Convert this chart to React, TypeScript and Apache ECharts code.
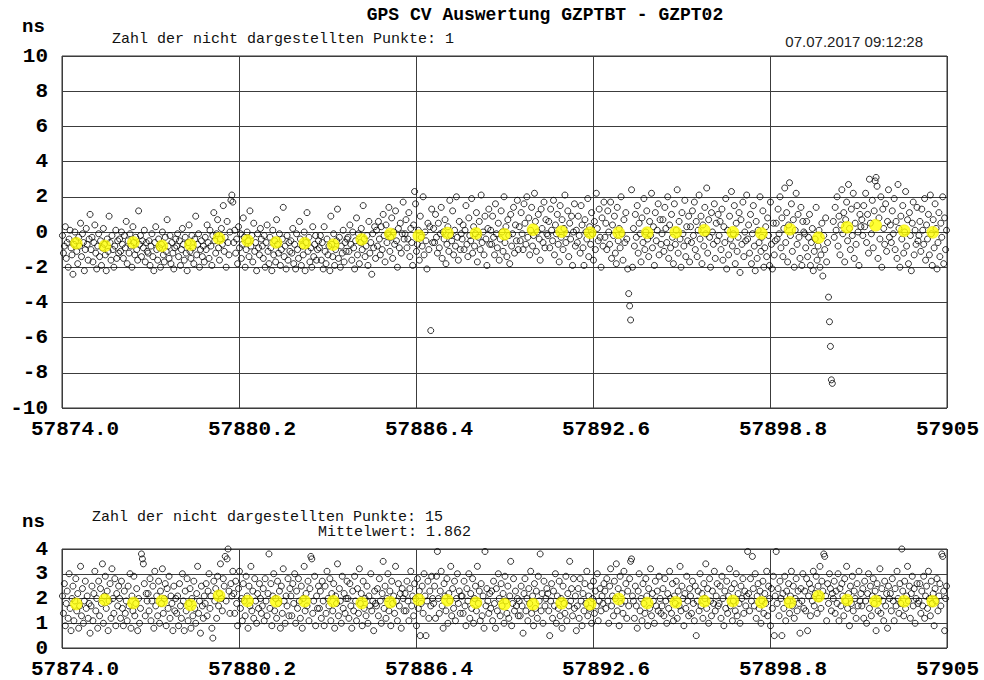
import React, { useEffect, useRef } from "react";
import * as echarts from "echarts";

// MJD of the left edge of both plots; x positions are days since this date
const MJD_START = 57874;
const X_TICK_LABELS = ["57874.0", "57880.2", "57886.4", "57892.6", "57898.8", "57905"];
const TOP_Y_TICKS = [-10, -8, -6, -4, -2, 0, 2, 4, 6, 8, 10];
const BOTTOM_Y_TICKS = [0, 1, 2, 3, 4];

const TITLE = "GPS CV Auswertung GZPTBT - GZPT02";
const TIMESTAMP = "07.07.2017 09:12:28";
const TOP_HIDDEN = "Zahl der nicht dargestellten Punkte: 1";
const BOTTOM_HIDDEN = "Zahl der nicht dargestellten Punkte: 15";
const BOTTOM_MEAN_TEXT = "Mittelwert: 1.862";

// daily means (ns), one per day
const TOP_MEANS = [
  -0.64, -0.79, -0.59, -0.79, -0.72, -0.36, -0.49, -0.59, -0.64, -0.72, -0.42,
  -0.11, -0.21, -0.06, -0.08, -0.13, 0.13, 0.02, -0.04, -0.04, -0.04, -0.02,
  0.1, -0.02, -0.08, 0.15, -0.32, 0.27, 0.38, 0.07, -0.02,
];
const BOTTOM_MEANS = [
  1.78, 1.95, 1.82, 1.9, 1.74, 2.11, 1.9, 1.89, 1.89, 1.89, 1.82, 1.85, 1.95,
  1.93, 1.83, 1.77, 1.77, 1.81, 1.77, 1.98, 1.82, 1.85, 1.89, 1.9, 1.85, 1.85,
  2.09, 1.94, 1.89, 1.89, 1.89,
];

// single CV differences in units of 0.1 ns, one row per day (regular epochs)
const TOP_SAMPLES = [
  [-2, -12, -8, 3, -15, -6, -20, -4, 1, -9, -13, -24, -7, 0, -5, -11, -18, -3, -8, 5, -14, -1, -6, -22, -10, 2, -7, -16, -4, 10],
  [-10, -3, -17, -6, 4, -12, -21, -8, -1, -14, -5, -19, -9, 2, -7, -13, -22, -4, -11, 9, -6, -16, -2, -10, -20, -8, 1, -15, -5, -12],
  [-4, -11, 0, -7, -15, -2, -9, 6, -18, -5, -12, -1, -8, -20, 3, -6, -13, -3, -10, -16, 12, -7, -2, -14, -5, -9, 1, -17, -6, -11],
  [-12, -5, -19, -8, -1, -14, -22, -6, 3, -10, -16, -4, -9, -20, -7, 0, -13, -17, -3, -11, 7, -8, -15, -2, -18, -6, -12, -21, -9, -4],
  [-8, -1, -14, -5, -19, -10, 2, -7, -16, -3, -12, -22, -6, 4, -11, -15, -2, -9, -18, -4, 9, -13, -7, -1, -20, -10, -5, -14, -8, -17],
  [-3, -10, 4, -6, -15, 1, -8, -19, -2, 11, -5, -12, -1, 7, -9, -16, -4, 2, -7, 15, -11, -3, -20, 6, -6, -13, 0, 18, 21, 17],
  [-6, 1, -12, -4, -18, 3, -9, -1, -15, -7, 8, -3, -20, -10, 0, -5, -14, 12, -8, -2, -17, 5, -11, -6, -22, -1, -9, -13, 2, -4],
  [-8, -15, -2, -20, -6, 4, -11, -18, -3, -9, -22, 1, -13, -5, -17, 7, -7, -12, -1, -19, -10, -4, 14, -14, -8, -21, -2, -16, -6, -11],
  [-5, -12, 2, -18, -7, -21, -1, -10, -15, 6, -4, -19, -8, -13, 0, -22, -6, 11, -11, -3, -17, -9, -20, 3, -14, -7, -2, -16, -10, -5],
  [-9, -2, -16, -6, -21, 3, -11, -18, -4, -13, -8, -22, 9, -7, -14, -1, -19, -10, -5, 13, -15, -3, -20, -8, -12, 1, -17, -6, -11, -4],
  [-3, -11, 4, -7, -16, 0, -9, -21, -5, 8, -13, -1, -18, -6, 2, -10, 15, -4, -14, -8, -2, -19, 6, -12, -6, -24, -1, -9, 3, -15],
  [1, -8, 6, -4, -13, 3, -10, 10, -2, -17, 4, -6, -1, 14, -11, -3, 8, -15, 0, -7, 12, -5, -20, 2, -9, 5, -12, -1, 17, -4],
  [-1, 7, -9, -4, 11, -14, 2, -6, -19, 4, 23, 16, -11, -7, 1, -16, 9, -3, -8, 20, -13, 0, -5, -21, 5, -10, 3, -56, 13, -6],
  [2, -6, 10, -3, -12, 5, -9, -1, 14, -15, 0, -4, 7, -18, -7, 3, -11, 18, -2, -5, 12, -13, 1, -8, 20, -3, -16, 6, -10, -1],
  [-4, 4, -10, 1, 15, -7, -14, 8, -2, -5, 19, -12, 3, -8, -1, 11, -17, -3, 6, -10, 21, -6, 0, -13, 9, -4, -19, 2, 13, -7],
  [1, -7, 9, -3, -13, 16, -1, -9, 5, -16, -4, 12, 0, -11, 20, -6, 3, -14, 7, -2, -18, 10, -8, -1, 14, -12, 4, -5, 18, -10],
  [3, -5, 11, -1, -10, 16, 5, -7, 20, -3, 8, -13, 1, 14, -8, -2, 22, 6, -11, 0, 10, -4, -16, 13, 2, -6, 17, -9, 7, -1],
  [-2, 6, -9, 13, 1, -5, 18, -13, 4, -1, 10, -7, -17, 15, -3, 7, -10, 2, 21, -6, -1, 12, -14, 5, -4, 9, -19, 0, 16, -8],
  [1, -6, 9, -2, -12, 15, 4, -9, -19, 7, 0, -4, 19, -14, 3, -7, 11, -1, -16, 6, -10, 22, 2, -5, 13, -3, -20, 8, -8, 17],
  [-3, 5, -10, 12, 0, -7, 17, -15, 4, -2, 9, -12, -18, 14, -5, 2, -9, 20, -1, -16, 7, -6, 11, -4, -21, -35, -42, -50, 24, -20],
  [2, -8, 10, -3, 15, -12, 5, -1, -17, 8, -6, 19, -10, 0, 12, -4, -14, 6, -2, 22, -9, 3, -19, 11, -5, 1, 16, -13, 7, -7],
  [-1, 7, -11, 14, 2, -6, 20, -15, 4, -9, 10, -3, -18, 16, -7, 1, 24, -12, 6, -4, -20, 11, -1, -8, 18, -14, 3, -5, 9, -17],
  [3, -6, 12, -2, 17, -10, 6, -14, 1, 21, -4, 9, -18, 4, -8, 14, -1, 25, -12, 7, -3, -20, 11, 0, -7, 16, -15, 5, -5, 10],
  [-2, 6, -10, 13, -16, 3, -6, 19, -21, 1, -13, 9, -4, 23, -8, -1, 15, -18, 5, -11, -3, 11, -23, 7, -7, 17, -14, 0, -5, 21],
  [-4, 4, -12, 10, -18, -1, 15, -8, -22, 6, -15, 1, -6, 20, -11, -3, 12, -20, -9, 3, -14, 8, -2, -19, 17, -7, -21, 5, -13, -5],
  [5, -4, 13, -1, 20, -9, 8, -14, 2, 25, -6, 11, -17, 4, 28, -2, 16, -11, 7, -20, 1, 22, -7, 10, -3, -15, 14, -19, 6, 0],
  [-1, -9, 6, -14, -3, 10, -19, -6, 2, -22, -11, -4, 14, -16, -8, 1, -20, -13, 5, -25, -2, -10, 8, -17, -6, -37, -51, -65, -84, -86],
  [6, -3, 14, 1, 20, -8, 9, -13, 4, 24, -1, 11, -17, 7, 17, -5, 27, 2, -10, 13, -2, 22, -15, 5, -7, 15, 0, -19, 10, 3],
  [7, -2, 15, 3, 22, -6, 10, -12, 30, 5, -1, 18, -9, 12, 29, 31, 26, -15, 8, -4, 20, -20, 13, 2, -7, 16, -11, 6, 24, -3],
  [4, -6, 12, -1, 19, -10, 6, -15, 27, 2, -20, 9, -4, 15, -12, 0, 23, -8, 7, -18, 11, -2, -22, 5, 17, -13, 1, -7, 14, -5],
  [-2, 6, -11, 13, 1, -7, 19, -16, 4, -4, 10, -13, 21, -1, -19, 7, -9, 16, 2, -21, -6, 11, -14, 5, -3, 20, -18, 8, -10, 1],
];

const BOTTOM_SAMPLES = [
  [21, 14, 26, 9, 18, 23, 12, 30, 16, 7, 20, 25, 11, 19, 28, 15, 22, 8, 17, 33, 13, 24, 10, 19, 27, 16, 21, 12, 18, 6],
  [17, 25, 11, 22, 31, 15, 20, 8, 27, 13, 24, 18, 34, 10, 21, 29, 16, 23, 7, 19, 26, 12, 32, 20, 14, 28, 9, 22, 17, 25],
  [20, 12, 27, 16, 9, 23, 14, 19, 11, 25, 17, 30, 8, 21, 15, 29, 13, 18, 24, 7, 20, 10, 16, 38, 36, 34, 26, 13, 22, 19],
  [22, 15, 28, 11, 19, 25, 8, 31, 17, 21, 13, 27, 10, 23, 18, 32, 14, 20, 26, 9, 24, 16, 29, 12, 21, 18, 7, 25, 15, 20],
  [14, 21, 9, 26, 17, 12, 30, 19, 7, 23, 15, 28, 11, 18, 24, 8, 20, 13, 27, 16, 10, 22, 33, 14, 19, 6, 25, 17, 12, 21],
  [18, 26, 13, 23, 30, 16, 21, 8, 4, 27, 19, 24, 12, 29, 17, 22, 34, 20, 15, 28, 25, 37, 19, 36, 40, 23, 14, 26, 21, 31],
  [22, 14, 27, 18, 9, 24, 31, 16, 20, 11, 26, 19, 13, 29, 21, 8, 25, 17, 33, 15, 23, 12, 28, 19, 10, 22, 16, 26, 20, 14],
  [17, 24, 11, 28, 19, 13, 22, 38, 16, 26, 9, 21, 30, 15, 20, 12, 27, 18, 23, 8, 25, 14, 32, 19, 10, 21, 17, 28, 13, 24],
  [21, 13, 26, 18, 30, 10, 23, 16, 28, 19, 12, 25, 8, 20, 33, 15, 22, 17, 27, 11, 24, 37, 36, 14, 19, 29, 9, 21, 16, 25],
  [16, 23, 12, 27, 19, 9, 25, 14, 31, 20, 17, 28, 11, 22, 15, 26, 8, 21, 18, 34, 13, 24, 19, 10, 29, 16, 22, 14, 20, 27],
  [20, 12, 26, 17, 8, 23, 15, 29, 19, 11, 24, 14, 32, 18, 22, 9, 27, 16, 20, 13, 25, 10, 21, 17, 30, 15, 19, 7, 23, 18],
  [17, 24, 13, 28, 19, 10, 22, 35, 16, 25, 12, 20, 30, 15, 23, 9, 27, 18, 21, 14, 33, 19, 11, 26, 17, 22, 8, 24, 20, 15],
  [22, 15, 27, 19, 11, 24, 31, 17, 21, 13, 26, 20, 9, 28, 16, 23, 5, 18, 25, 14, 30, 21, 5, 19, 27, 12, 23, 17, 29, 20],
  [18, 25, 12, 29, 39, 20, 14, 23, 31, 17, 8, 26, 21, 15, 28, 10, 22, 19, 33, 13, 24, 16, 27, 11, 20, 30, 18, 23, 14, 21],
  [21, 14, 27, 17, 9, 24, 19, 30, 12, 22, 16, 28, 10, 20, 25, 15, 33, 18, 23, 11, 26, 13, 21, 8, 39, 17, 24, 19, 14, 22],
  [16, 23, 11, 27, 18, 8, 24, 15, 30, 20, 13, 26, 17, 22, 10, 29, 19, 14, 25, 12, 21, 35, 9, 18, 28, 15, 23, 17, 20, 13],
  [19, 13, 25, 17, 6, 22, 28, 15, 20, 11, 24, 18, 31, 14, 21, 9, 26, 16, 23, 12, 29, 19, 38, 15, 22, 10, 27, 17, 20, 24],
  [22, 15, 5, 19, 26, 12, 23, 17, 30, 10, 21, 16, 27, 13, 20, 8, 25, 18, 14, 29, 11, 22, 17, 35, 19, 24, 13, 28, 16, 21],
  [7, 17, 24, 12, 28, 19, 9, 22, 15, 26, 18, 31, 13, 21, 16, 25, 10, 20, 27, 14, 23, 17, 30, 11, 19, 24, 15, 21, 18, 26],
  [23, 16, 28, 19, 10, 25, 32, 17, 21, 13, 27, 20, 34, 15, 24, 9, 29, 18, 22, 14, 31, 19, 26, 12, 23, 17, 28, 35, 36, 21],
  [19, 12, 25, 17, 8, 23, 30, 15, 20, 11, 26, 18, 14, 28, 21, 9, 24, 16, 32, 13, 22, 19, 10, 27, 17, 23, 15, 29, 20, 14],
  [17, 24, 13, 28, 19, 10, 22, 16, 31, 20, 14, 26, 11, 21, 18, 27, 12, 23, 17, 33, 15, 25, 20, 9, 22, 16, 29, 19, 13, 24],
  [21, 14, 27, 18, 11, 25, 5, 19, 23, 15, 30, 17, 22, 12, 26, 20, 34, 16, 24, 10, 28, 19, 13, 23, 18, 31, 15, 21, 26, 17],
  [18, 25, 12, 29, 20, 9, 23, 16, 27, 14, 21, 32, 17, 24, 11, 19, 26, 15, 30, 13, 22, 18, 10, 25, 20, 28, 14, 23, 17, 21],
  [39, 22, 15, 28, 19, 37, 24, 17, 30, 12, 21, 26, 16, 23, 10, 19, 27, 14, 22, 18, 31, 13, 25, 20, 9, 24, 16, 29, 5, 21],
  [39, 18, 24, 13, 27, 20, 5, 22, 16, 29, 11, 23, 19, 26, 14, 21, 31, 17, 25, 12, 20, 28, 15, 23, 18, 6, 24, 19, 30, 16],
  [23, 15, 28, 7, 21, 26, 13, 24, 19, 31, 17, 22, 29, 14, 25, 20, 33, 16, 27, 23, 38, 37, 21, 11, 26, 18, 30, 24, 15, 22],
  [20, 27, 14, 23, 18, 30, 11, 24, 17, 26, 21, 13, 28, 19, 33, 16, 22, 9, 25, 18, 29, 15, 23, 20, 12, 26, 17, 31, 19, 22],
  [17, 24, 12, 27, 19, 10, 22, 30, 16, 25, 13, 21, 28, 18, 23, 7, 26, 15, 20, 32, 14, 24, 19, 11, 27, 17, 22, 8, 25, 20],
  [22, 15, 28, 19, 11, 24, 17, 31, 20, 14, 26, 18, 40, 23, 13, 27, 16, 21, 33, 19, 25, 12, 22, 29, 17, 24, 10, 20, 26, 18],
  [19, 26, 14, 23, 17, 29, 12, 21, 25, 16, 31, 20, 13, 27, 18, 22, 9, 24, 19, 28, 15, 21, 26, 17, 38, 37, 23, 7, 20, 25],
];

const MONO = "'Liberation Mono', 'Courier New', monospace";
const GRID_COLOR = "#3c3c3c";

// spread each day's samples over its epochs; values are stored in 0.1 ns
const toPoints = (rows: number[][]) =>
  rows.flatMap((row, day) =>
    row.map((v, i) => [day + (i + 0.5) / row.length, v / 10])
  );
const meanPoints = (means: number[]) => means.map((m, day) => [day + 0.5, m]);

const xTickLabel = (v: number) => {
  const idx = Math.round(v / 6.2);
  return X_TICK_LABELS[idx] ?? (MJD_START + v).toFixed(1);
};

function buildOption(): echarts.EChartsOption {
  const xAxisBase = (gridIndex: number) => ({
    gridIndex,
    type: "value" as const,
    min: 0,
    max: 31,
    interval: 6.2,
    axisLine: { show: false },
    axisTick: { show: false },
    splitLine: { show: true, lineStyle: { color: GRID_COLOR, width: 1 } },
    axisLabel: {
      formatter: xTickLabel,
      fontFamily: MONO,
      fontWeight: "bold" as const,
      fontSize: 21,
      lineHeight: 15,
      color: "#000",
      align: "left" as const,
      padding: [0, 0, 0, -31],
      margin: 14,
      showMinLabel: true,
      showMaxLabel: true,
    },
  });
  const yAxisBase = (gridIndex: number, ticks: number[]) => ({
    gridIndex,
    type: "value" as const,
    min: ticks[0],
    max: ticks[ticks.length - 1],
    interval: ticks[1] - ticks[0],
    axisLine: { show: false },
    axisTick: { show: false },
    splitLine: { show: true, lineStyle: { color: GRID_COLOR, width: 1 } },
    axisLabel: {
      fontFamily: MONO,
      fontWeight: "bold" as const,
      fontSize: 21,
      lineHeight: 15,
      color: "#000",
      margin: 14,
      showMinLabel: true,
      showMaxLabel: true,
    },
  });

  const sampleStyle = {
    symbol: "circle",
    symbolSize: 6,
    itemStyle: { color: "rgba(255,255,255,0)", borderColor: "#000", borderWidth: 1 },
    silent: true,
  };
  const meanStyle = {
    symbol: "circle",
    symbolSize: 12,
    itemStyle: { color: "#ffff00", borderColor: "#e6d800", borderWidth: 0.6 },
    silent: true,
  };

  const text = (x: number, y: number, str: string, font: string, align: string, fill = "#111") => ({
    type: "text" as const,
    x,
    y,
    silent: true,
    style: {
      text: str,
      font,
      fill,
      align,
      verticalAlign: "middle",
      textAlign: align,
      textVerticalAlign: "middle",
    },
  });

  return {
    animation: false,
    backgroundColor: "#fff",
    grid: [
      { left: 62, top: 56, width: 885, height: 352, show: true, borderColor: "#333", borderWidth: 1, backgroundColor: "transparent" },
      { left: 62, top: 549, width: 885, height: 101, show: true, borderColor: "#333", borderWidth: 1, backgroundColor: "transparent" },
    ],
    xAxis: [xAxisBase(0), xAxisBase(1)],
    yAxis: [yAxisBase(0, TOP_Y_TICKS), yAxisBase(1, BOTTOM_Y_TICKS)],
    series: [
      { type: "scatter", xAxisIndex: 0, yAxisIndex: 0, data: toPoints(TOP_SAMPLES), ...sampleStyle },
      { type: "scatter", xAxisIndex: 0, yAxisIndex: 0, data: meanPoints(TOP_MEANS), ...meanStyle },
      { type: "scatter", xAxisIndex: 1, yAxisIndex: 1, data: toPoints(BOTTOM_SAMPLES), ...sampleStyle },
      { type: "scatter", xAxisIndex: 1, yAxisIndex: 1, data: meanPoints(BOTTOM_MEANS), ...meanStyle },
    ] as any,
    graphic: [
      text(545, 15, TITLE, `bold 18px ${MONO}`, "center", "#000"),
      text(22, 27, "ns", `bold 19px ${MONO}`, "left", "#000"),
      text(112, 39, TOP_HIDDEN, `15px ${MONO}`, "left"),
      text(923, 41, TIMESTAMP, "15px 'Liberation Sans', Arial, sans-serif", "right", "#222"),
      text(22, 522, "ns", `bold 19px ${MONO}`, "left", "#000"),
      text(92, 517, BOTTOM_HIDDEN, `15px ${MONO}`, "left"),
      text(318, 532, BOTTOM_MEAN_TEXT, `15px ${MONO}`, "left"),
    ] as any,
  };
}

export default function App() {
  const ref = useRef<HTMLDivElement>(null);
  useEffect(() => {
    if (!ref.current) return;
    const chart = echarts.init(ref.current, undefined, { renderer: "svg" });
    chart.setOption(buildOption());
    return () => chart.dispose();
  }, []);
  return (
    <div
      ref={ref}
      style={{ position: "fixed", left: 0, top: 0, width: 984, height: 680, background: "#fff" }}
    />
  );
}
